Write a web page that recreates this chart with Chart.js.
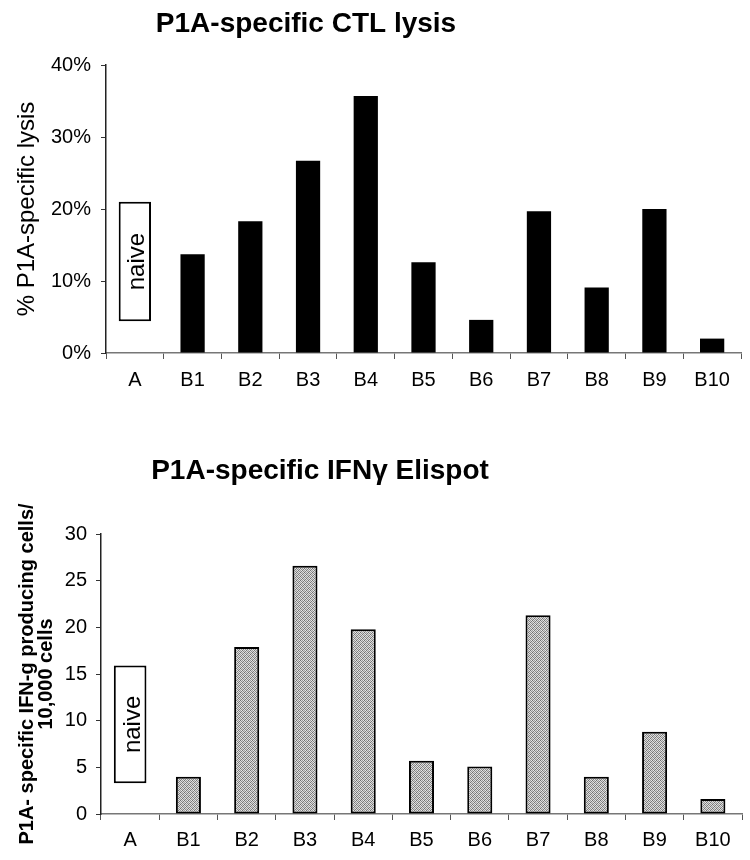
<!DOCTYPE html>
<html><head><meta charset="utf-8">
<script src="https://cdn.jsdelivr.net/npm/chart.js@4/dist/chart.umd.min.js"></script>
<style>
html,body{margin:0;padding:0;background:#fff;}
#wrap{position:relative;width:750px;height:860px;overflow:hidden;}
.box{position:absolute;left:0;width:750px;}
</style></head><body>
<div id="wrap">
<div class="box" style="top:0;height:420px"><canvas id="c1" width="750" height="420"></canvas></div>
<div class="box" style="top:420px;height:440px"><canvas id="c2" width="750" height="440"></canvas></div>
</div>
<script>
// ---- data ----
const categories = ['A','B1','B2','B3','B4','B5','B6','B7','B8','B9','B10'];
const lysisValues = [null, 13.7, 18.3, 26.7, 35.7, 12.6, 4.6, 19.7, 9.1, 20.0, 2.0];
const lysisNaiveRange = [4.4, 21.0];
const lysisTicks = [0, 10, 20, 30, 40];
const elispotValues = [null, 4.0, 17.9, 26.6, 19.8, 5.7, 5.1, 21.3, 4.0, 8.8, 1.6];
const elispotNaiveRange = [3.3, 15.9];
const elispotTicks = [0, 5, 10, 15, 20, 25, 30];
const naiveLabel = 'naive';
const title1 = 'P1A-specific CTL lysis';
const title2 = 'P1A-specific IFN\u03B3 Elispot';
const yTitle1 = '% P1A-specific lysis';
const yTitle2 = ['P1A- specific IFN-g producing cells/', '10,000 cells'];

const FONT = '"Liberation Sans", Arial, Helvetica, sans-serif';
Chart.defaults.font.family = FONT;
Chart.defaults.color = '#000';

function stipple(){
  const c = document.createElement('canvas'); c.width = 4; c.height = 4;
  const g = c.getContext('2d');
  const px = [
    ['#6e6e6e','#dcdcdc','#9a9a9a','#e6e6e6'],
    ['#e0e0e0','#8a8a8a','#d4d4d4','#7c7c7c'],
    ['#a0a0a0','#e8e8e8','#747474','#d8d8d8'],
    ['#d0d0d0','#808080','#e2e2e2','#909090']];
  for (let r=0;r<4;r++) for (let k=0;k<4;k++){ g.fillStyle=px[r][k]; g.fillRect(k,r,1,1); }
  return g.createPattern(c,'repeat');
}

const overlay = {
  id: 'overlay',
  afterDatasetsDraw(chart, args, opts) {
    const ctx = chart.ctx;
    const meta = chart.getDatasetMeta(opts.naiveIndex);
    const el = meta.data[0];
    if (el) {
      const p = el.getProps(['x','y','base'], true);
      ctx.save();
      ctx.translate(p.x + opts.naiveDx, (p.y + p.base) / 2);
      ctx.rotate(-Math.PI / 2);
      ctx.font = '24px ' + FONT;
      ctx.fillStyle = '#000';
      ctx.textAlign = 'center';
      ctx.textBaseline = 'middle';
      ctx.fillText(naiveLabel, 0, 0);
      ctx.restore();
    }
    ctx.save();
    ctx.font = 'bold 28px ' + FONT;
    ctx.fillStyle = '#000';
    ctx.textAlign = 'center';
    ctx.textBaseline = 'alphabetic';
    ctx.fillText(opts.title, opts.titleX, opts.titleY);
    ctx.restore();
  }
};

function makeChart(id, cfg) {
  const naiveData = categories.map((c, i) => i === 0 ? cfg.naive : null);
  return new Chart(document.getElementById(id), {
    type: 'bar',
    data: {
      labels: categories,
      datasets: [
        {
          label: 'value',
          data: cfg.values,
          backgroundColor: cfg.fill,
          borderColor: '#000',
          borderWidth: cfg.border,
          borderSkipped: false,
          barPercentage: cfg.barPct,
          categoryPercentage: 1,
          grouped: false
        },
        {
          label: naiveLabel,
          data: naiveData,
          backgroundColor: '#fff',
          borderColor: '#000',
          borderWidth: 2,
          borderSkipped: false,
          barPercentage: 0.56,
          categoryPercentage: 1,
          grouped: false
        }
      ]
    },
    options: {
      responsive: false,
      animation: false,
      devicePixelRatio: 1,
      layout: { padding: { top: cfg.padTop, right: cfg.padRight, left: 0, bottom: 0 } },
      plugins: {
        legend: { display: false },
        tooltip: { enabled: false },
        title: { display: false },
        overlay: { naiveIndex: 1, naiveDx: 3, title: cfg.title, titleX: cfg.titleX, titleY: cfg.titleY }
      },
      scales: {
        x: {
          offset: true,
          grid: { display: true, drawOnChartArea: false, drawTicks: true, tickLength: 6, color: '#555', offset: true },
          border: { display: true, color: '#777', width: 1.5 },
          ticks: { color: '#000', font: { size: 20 }, padding: cfg.xPad, maxRotation: 0, autoSkip: false },
          afterFit(s) { s.height = cfg.xHeight; }
        },
        y: {
          min: 0, max: cfg.max,
          afterBuildTicks(s) { s.ticks = cfg.ticks.map(v => ({ value: v })); },
          ticks: { color: '#000', font: { size: 20 }, padding: cfg.yPad, callback: cfg.fmt },
          grid: { drawOnChartArea: false, drawTicks: true, tickLength: 5, color: '#333' },
          border: { display: true, color: '#222', width: 1.5 },
          title: { display: true, text: cfg.yTitle, color: '#000', font: cfg.yTitleFont, padding: cfg.yTitlePad },
          afterFit(s) { s.width = cfg.yWidth; }
        }
      }
    },
    plugins: [overlay]
  });
}

makeChart('c1', {
  values: lysisValues, naive: lysisNaiveRange, ticks: lysisTicks, max: 40,
  fmt: v => v + '%', fill: '#000', border: 0, barPct: 0.42,
  padTop: 65, padRight: 9, xHeight: 67, xPad: 9, yPad: 10, yWidth: 106,
  yTitle: yTitle1, yTitleFont: { size: 24, lineHeight: 1.2 }, yTitlePad: { top: 13, bottom: 0 },
  title: title1, titleX: 306, titleY: 32
});

makeChart('c2', {
  values: elispotValues, naive: elispotNaiveRange, ticks: elispotTicks, max: 30,
  fmt: v => String(v), fill: stipple(), border: 2, barPct: 0.43,
  padTop: 114, padRight: 8, xHeight: 46, xPad: 8, yPad: 9, yWidth: 101,
  yTitle: yTitle2, yTitleFont: { size: 20, weight: 'bold', lineHeight: 0.95 }, yTitlePad: { top: 18, bottom: 0 },
  title: title2, titleX: 320, titleY: 59
});
</script>
</body></html>
